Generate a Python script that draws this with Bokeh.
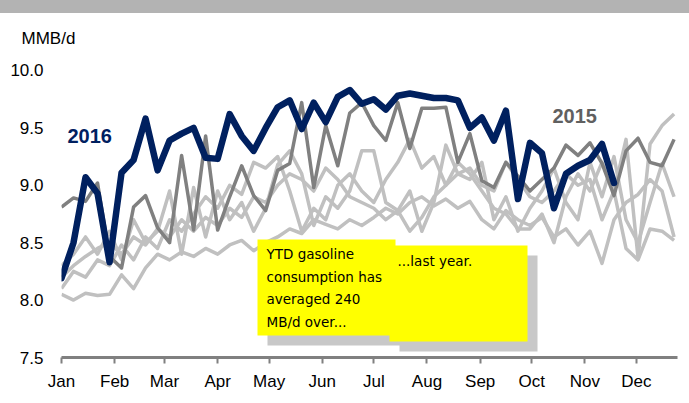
from bokeh.plotting import figure
from bokeh.models import Range1d, FixedTicker, BoxAnnotation, Label
from bokeh.embed import file_html
from bokeh.resources import INLINE

# ---------------- data ----------------
month_labels = ["Jan", "Feb", "Mar", "Apr", "May", "Jun", "Jul", "Aug", "Sep", "Oct", "Nov", "Dec"]
month_start_days = [0, 31, 60, 91, 121, 152, 182, 213, 244, 274, 305, 335]
y_tick_values = [7.5, 8.0, 8.5, 9.0, 9.5, 10.0]
y_tick_labels = ["7.5", "8.0", "8.5", "9.0", "9.5", "10.0"]

y2016 = [8.19, 8.50, 9.07, 8.93, 8.33, 9.11, 9.22, 9.58, 9.13, 9.39,
         9.45, 9.50, 9.24, 9.23, 9.62, 9.43, 9.30, 9.50, 9.68, 9.74,
         9.49, 9.72, 9.55, 9.77, 9.83, 9.71, 9.75, 9.66, 9.78, 9.80,
         9.78, 9.76, 9.76, 9.74, 9.50, 9.59, 9.39, 9.65, 8.88, 9.37,
         9.28, 8.80, 9.10, 9.17, 9.22, 9.36, 9.02]

y2015 = [8.81, 8.89, 8.86, 9.02, 8.38, 8.28, 8.81, 8.91, 8.63, 8.50,
         9.26, 8.61, 9.43, 8.61, 8.90, 9.17, 8.91, 8.78, 9.13, 9.19,
         9.72, 8.98, 9.52, 9.17, 9.63, 9.72, 9.52, 9.39, 9.72, 9.32,
         9.67, 9.67, 9.68, 9.20, 9.45, 9.04, 8.98, 9.20, 9.08, 8.95,
         9.05, 9.15, 9.35, 9.26, 9.37, 9.19, 8.91, 9.30, 9.41, 9.20,
         9.17, 9.40]

y_light_a = [8.05, 8.00, 8.06, 8.04, 8.05, 8.22, 8.10, 8.28, 8.40, 8.35,
             8.42, 8.38, 8.45, 8.40, 8.48, 8.52, 8.43, 8.50, 8.55, 8.62,
             8.58, 8.70, 8.66, 8.62, 8.70, 8.65, 8.72, 8.80, 8.75, 8.85,
             8.90, 8.82, 8.88, 8.80, 8.86, 8.70, 8.62, 8.78, 8.70, 8.65,
             8.72, 8.55, 8.62, 8.48, 8.60, 8.32, 8.70, 8.85, 8.92, 9.05,
             8.95, 8.55]

y_light_b = [8.20, 8.30, 8.38, 8.45, 8.50, 8.40, 8.55, 8.48, 8.62, 8.55,
             8.70, 8.60, 8.72, 8.65, 8.80, 8.72, 8.90, 8.85, 9.00, 9.10,
             9.05, 8.95, 9.15, 9.05, 8.90, 8.85, 8.80, 8.70, 8.78, 8.60,
             8.72, 8.90, 9.00, 9.10, 9.15, 9.00, 8.95, 9.20, 9.05, 8.90,
             8.85, 8.95, 9.10, 9.00, 9.05, 8.70, 8.95, 9.40, 8.37, 9.36,
             9.52, 9.62]

y_light_c = [8.30, 8.40, 8.55, 8.40, 8.60, 8.35, 8.70, 8.50, 8.60, 8.95,
             8.40, 8.98, 8.55, 8.95, 8.70, 8.85, 8.60, 8.80, 9.18, 9.30,
             9.10, 8.65, 8.90, 8.80, 8.95, 9.30, 9.30, 8.85, 8.78, 8.95,
             8.60, 8.85, 9.35, 9.10, 9.05, 9.20, 8.70, 8.90, 8.60, 8.80,
             8.95, 9.15, 8.85, 8.70, 9.20, 8.90, 9.25, 8.70, 8.50, 8.85,
             9.19, 8.90]

y_light_d = [8.10, 8.25, 8.20, 8.35, 8.30, 8.48, 8.35, 8.55, 8.45, 8.70,
             8.60, 8.75, 8.90, 8.80, 9.00, 8.92, 9.20, 9.15, 9.25, 8.95,
             8.60, 8.80, 8.70, 9.00, 9.10, 8.95, 8.85, 9.05, 9.20, 9.40,
             9.15, 9.25, 9.00, 9.20, 9.10, 8.95, 8.80, 8.75, 8.62, 8.62,
             8.75, 8.50, 8.90, 9.10, 8.95, 9.20, 8.95, 8.45, 8.35, 8.62,
             8.60, 8.52]

light_series = [y_light_a, y_light_b, y_light_c, y_light_d]

def week_days(values):
    return [7 * i for i in range(len(values))]

# ---------------- figure ----------------
p = figure(width=689, height=400, output_backend="svg", toolbar_location=None,
           x_range=Range1d(0, 359), y_range=Range1d(7.5, 10.174),
           min_border_left=61, min_border_right=12, min_border_top=50, min_border_bottom=43,
           styles={"background": "linear-gradient(to bottom, #b3b3b3 0px, #b3b3b3 13px, #ffffff 13px, #ffffff 100%)"})
p.background_fill_color = "white"
p.border_fill_color = None
p.outline_line_color = None
p.xgrid.visible = False
p.ygrid.visible = False

# page pixels -> data coordinates (annotation placement only)
def dx(px):
    return (px - 61) * 359.0 / 616.0

def dy(py):
    return 10.0 - (py - 70) / 114.8

FONT = "Liberation Sans"

# unit label as the plot title
p.title.text = "MMB/d"
p.title.align = "left"
p.title.offset = -40
p.title.text_font = FONT
p.title.text_font_size = "17px"
p.title.text_font_style = "normal"
p.title.text_color = "#000000"
p.title.standoff = 5

# x axis
xa = p.xaxis[0]
xa.ticker = FixedTicker(ticks=month_start_days)
xa.major_label_overrides = {d: m for d, m in zip(month_start_days, month_labels)}
xa.axis_line_color = "#808080"
xa.axis_line_width = 3
xa.major_tick_line_color = "#808080"
xa.major_tick_line_width = 2
xa.major_tick_out = 6
xa.major_tick_in = 0
xa.minor_tick_line_color = None
xa.major_label_text_font = FONT
xa.major_label_text_font_size = "17px"
xa.major_label_text_color = "#000000"
xa.major_label_standoff = 8

# y axis
ya = p.yaxis[0]
ya.ticker = FixedTicker(ticks=y_tick_values)
ya.major_label_overrides = {v: s for v, s in zip(y_tick_values, y_tick_labels)}
ya.axis_line_color = None
ya.major_tick_line_color = None
ya.minor_tick_line_color = None
ya.major_tick_out = 0
ya.major_tick_in = 0
ya.major_label_text_font = FONT
ya.major_label_text_font_size = "17px"
ya.major_label_text_color = "#000000"
ya.major_label_standoff = 18

# lines
for s in light_series:
    p.line(week_days(s), s, line_color="#c0c0c0", line_width=3.5, line_join="round")
p.line(week_days(y2015), y2015, line_color="#808080", line_width=3.5, line_join="round")
p.line(week_days(y2016), y2016, line_color="#00205f", line_width=6.5, line_join="round", line_cap="round")

# callout boxes with shadows
p.add_layout(BoxAnnotation(left=dx(267), right=dx(405), top=dy(249), bottom=dy(345),
                           fill_color="#c8c8c8", fill_alpha=1, line_color=None))
p.add_layout(BoxAnnotation(left=dx(257), right=dx(395), top=dy(239), bottom=dy(335),
                           fill_color="#ffff00", fill_alpha=1, line_color=None))
p.add_layout(BoxAnnotation(left=dx(399), right=dx(537), top=dy(255), bottom=dy(351),
                           fill_color="#c8c8c8", fill_alpha=1, line_color=None))
p.add_layout(BoxAnnotation(left=dx(389), right=dx(527), top=dy(245), bottom=dy(341),
                           fill_color="#ffff00", fill_alpha=1, line_color=None))

p.add_layout(Label(x=dx(266), y=dy(246), text="YTD gasoline\nconsumption has\naveraged 240\nMB/d over...",
                   text_font="DejaVu Sans", text_font_size="13.5px", text_color="#000000",
                   text_baseline="top", text_align="left", text_line_height=1.4))
p.add_layout(Label(x=dx(397), y=dy(253), text="...last year.",
                   text_font="DejaVu Sans", text_font_size="13.5px", text_color="#000000",
                   text_baseline="top", text_align="left"))

# series labels
p.add_layout(Label(x=dx(67), y=dy(136), text="2016", text_font=FONT, text_font_size="20px",
                   text_font_style="bold", text_color="#00205f", text_baseline="middle"))
p.add_layout(Label(x=dx(552), y=dy(116), text="2015", text_font=FONT, text_font_size="20px",
                   text_font_style="bold", text_color="#606060", text_baseline="middle"))

open("out.html", "w").write(file_html(p, INLINE))
